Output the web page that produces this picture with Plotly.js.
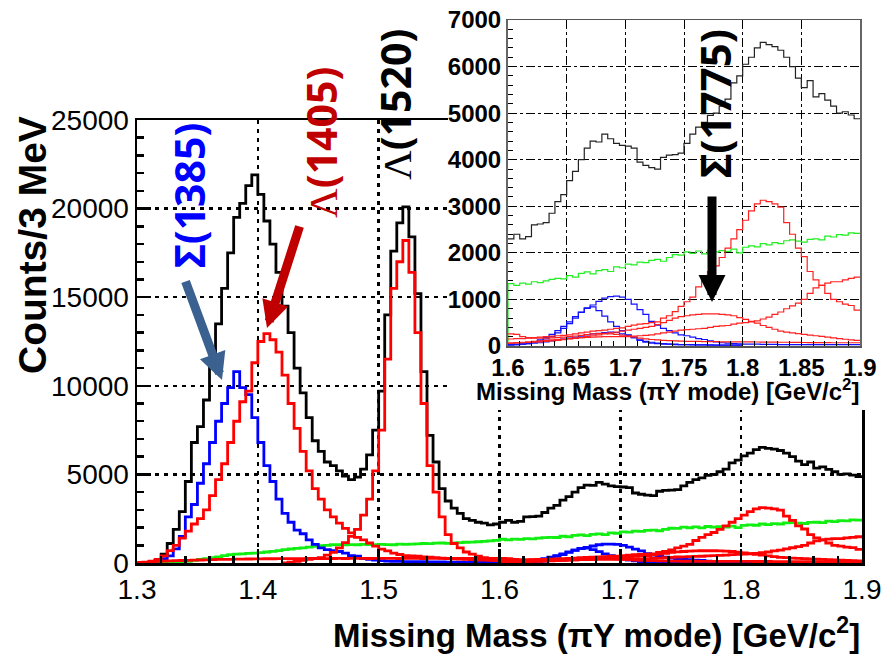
<!DOCTYPE html>
<html>
<head>
<meta charset="utf-8">
<script src="https://cdn.plot.ly/plotly-3.0.1.min.js"></script>
<style>html,body{margin:0;padding:0;background:#fff}</style>
</head>
<body>
<div id="chart" style="width:883px;height:655px"></div>
<script>
// Histogram bin width (GeV/c^2) used for all spectra below
const binWidth = 0.005;

// Total missing-mass spectrum, bins from 1.300
const totalStart = 1.300;
const totalCounts = [
  0, 0, 50, 150, 500, 1100, 1900, 2900, 4600, 6800,
  7700, 9200, 11500, 13500, 15500, 17500, 19500, 20300, 21300, 21900,
  20800, 19300, 18000, 16400, 14500, 13000, 11000, 9600, 8200, 6900,
  6300, 5700, 5500, 5200, 4900, 4700, 4850, 5300, 6100, 7500,
  9700, 14000, 17600, 19200, 20100, 18400, 15200, 10800, 7200, 5700,
  4200, 3500, 3100, 2800, 2500, 2400, 2300, 2250, 2150, 2200,
  2300, 2400, 2300, 2350, 2600, 2620, 2650, 2850, 3100, 3250,
  3550, 3750, 4000, 4250, 4400, 4380, 4550, 4450, 4350, 4310,
  4290, 4250, 3950, 3880, 3830, 3800, 4050, 4100, 4110, 4140,
  4350, 4550, 4700, 4800, 4950, 5000, 5150, 5300, 5650, 5800,
  6050, 6200, 6400, 6520, 6470, 6430, 6350, 6200, 6000, 5750,
  5550, 5700, 5350, 5420, 5280, 5150, 5000, 5030, 4960, 4880
];

// Non-resonant background (green), bins from 1.300
const bgStart = 1.300;
const bgCounts = [
  0, 0, 0, 0, 0, 0, 0, 0,
  100, 150, 200, 250, 300, 350, 420, 470, 500, 520,
  540, 560, 580, 620, 660, 700, 750, 790, 820, 850,
  900, 940, 980, 1000, 1030, 1040, 1020, 1040, 1030, 1050,
  1040, 1030, 1050, 1040, 1030, 1060, 1050, 1070, 1080, 1100,
  1090, 1120, 1130, 1110, 1140, 1150, 1170, 1180, 1200, 1220,
  1250, 1280,
  1340, 1300, 1350, 1330, 1380, 1360, 1400, 1430, 1450, 1440,
  1510, 1480, 1560, 1590, 1550, 1620, 1640, 1600, 1700, 1680,
  1760, 1740, 1800, 1790, 1840, 1860, 1820, 1900, 1960, 1950,
  2020, 1990, 2040, 1980, 2060, 2020, 2050, 2030, 2080, 2000,
  2120, 2150, 2130, 2200, 2170, 2220, 2200, 2260, 2280, 2250,
  2230, 2290, 2300, 2280, 2360, 2340, 2390, 2380, 2430, 2420
];

// Sigma(1385) component (blue), bins from 1.300
const sigma1385Start = 1.300;
const sigma1385Counts = [
  0, 30, 60, 120, 250, 400, 800, 1500, 2600, 3300,
  4500, 5600, 6800, 8000, 9000, 9900, 10800, 9900, 9500, 8200,
  6800, 5500, 4600, 3600, 2800, 2300, 1850, 1650, 1300, 1050,
  850, 750, 700, 650, 560, 420, 380, 250, 200, 160,
  130, 110, 100, 90, 80, 80, 70, 70, 60, 60,
  60, 50, 50, 50, 50, 40, 40, 40, 40, 40
];

// Lambda(1405) component (red), bins from 1.300
const lambda1405Start = 1.300;
const lambda1405Counts = [
  0, 30, 100, 200, 400, 700, 1000, 1400, 1800, 2200,
  2500, 3000, 3800, 4700, 5600, 6800, 8000, 9100, 9700, 11300,
  12500, 12950, 12600, 11900, 10600, 9000, 7600, 6300, 5200, 4200,
  3600, 3000, 2600, 2250, 1950, 1700, 1450, 1300, 1130, 950,
  780, 680, 560, 480, 420, 400, 380, 350, 330, 300,
  280, 260, 240, 220, 200, 190, 170, 160, 150, 140
];

// Lambda(1520) component (red), bins from 1.420
const lambda1520Start = 1.420;
const lambda1520Counts = [
  0, 50, 100, 150, 200, 250, 300, 450, 600, 850,
  1150, 1500, 1900, 2700, 3600, 5200, 7500, 11500, 15500, 17000,
  18200, 16400, 13000, 9000, 5500, 4000, 2600, 1600, 1100, 850,
  620, 500, 380, 300, 200, 150
];

// Higher-mass components, bins from 1.600
const highStart = 1.600;
const blueHighA = [
  30, 30, 40, 50, 80, 110, 150, 200, 280, 380,
  480, 600, 720, 820, 880, 960, 1030, 1060, 1070, 1050,
  1000, 900, 780, 680, 530, 450, 380, 330, 280, 240,
  220, 190, 160, 140, 110, 90, 70, 60, 50, 45,
  40, 40, 40, 35, 35, 35, 30, 30, 30, 30,
  30, 30, 30, 30, 30, 30, 30, 30, 30, 30
];
const blueHighB = [
  20, 30, 40, 60, 90, 130, 180, 250, 330, 420,
  520, 630, 730, 810, 840, 760, 640, 520, 420, 330,
  240, 180, 120, 80, 60, 50, 40, 40, 30, 30,
  30, 25, 25, 25, 20, 20, 20, 20, 20, 20
];
const blueHighC = [
  40, 40, 45, 50, 60, 70, 90, 110, 130, 150,
  170, 190, 210, 240, 260, 270, 290, 300, 290, 260,
  230, 180, 130, 100, 80, 60, 50, 40, 40, 30,
  30, 30, 25, 25, 25, 20, 20, 20, 20, 20
];
const sigma1775Counts = [
  150, 160, 160, 170, 180, 190, 200, 210, 220, 230,
  240, 260, 280, 300, 320, 330, 340, 360, 380, 390,
  420, 450, 470, 480, 500, 520, 600, 650, 740, 850,
  950, 1050, 1270, 1450, 1600, 1720, 1900, 2100, 2300, 2500,
  2700, 2900, 3050, 3130, 3100, 3050, 2980, 2650, 2400, 2100,
  1920, 1600, 1420, 1300, 1130, 1000, 950, 900, 870, 770
];
const redHighB = [
  60, 65, 70, 75, 80, 90, 100, 110, 120, 135,
  150, 165, 180, 200, 220, 240, 260, 280, 300, 320,
  340, 360, 380, 400, 420, 460, 500, 550, 600, 630,
  650, 670, 680, 690, 690, 690, 680, 670, 650, 610,
  570, 530, 490, 440, 400, 360, 320, 300, 280, 265,
  250, 235, 220, 205, 190, 175, 160, 145, 130, 120
];
const redHighC = [
  60, 70, 80, 90, 100, 110, 120, 130, 140, 150,
  160, 170, 180, 185, 190, 195, 200, 200, 200, 200,
  200, 210, 220, 230, 240, 260, 280, 300, 320, 340,
  350, 360, 370, 380, 400, 420, 430, 440, 470, 490,
  500, 520, 540, 580, 620, 680, 730, 800, 860, 920,
  1000, 1130, 1250, 1300, 1350, 1380, 1380, 1420, 1450, 1480
];
// Low-level red component over the full range, bins from 1.300
const redLowStart = 1.300;
const redLowCounts = [
  30, 50, 70, 90, 110, 120, 130, 140, 150, 160,
  170, 180, 190, 200, 205, 210, 215, 220, 225, 230,
  235, 240, 240, 245, 245, 250, 250, 250, 255, 255,
  255, 250, 255, 260, 255, 260, 265, 260, 255, 260,
  260, 265, 260, 255, 260, 265, 260, 255, 260, 265,
  260, 255, 260, 265, 260, 255, 260, 265, 260, 265,
  260, 250, 200, 180, 170, 170, 170, 175, 180, 190,
  200, 215, 230, 245, 260, 265, 270, 260, 250, 235,
  220, 195, 170, 155, 140, 130, 120, 115, 110, 105,
  100, 100, 100, 95, 95, 95, 90, 90, 90, 90,
  90, 88, 86, 85, 84, 82, 80, 80, 78, 76,
  75, 74, 73, 72, 71, 70, 70, 70, 70, 70
];

// Axis tick labels
const mainXTicks = [1.3, 1.4, 1.5, 1.6, 1.7, 1.8, 1.9];
const mainXLabels = ['1.3', '1.4', '1.5', '1.6', '1.7', '1.8', '1.9'];
const mainYTicks = [0, 5000, 10000, 15000, 20000, 25000];
const mainYLabels = ['0', '5000', '10000', '15000', '20000', '25000'];
const insetXTicks = [1.6, 1.65, 1.7, 1.75, 1.8, 1.85, 1.9];
const insetXLabels = ['1.6', '1.65', '1.7', '1.75', '1.8', '1.85', '1.9'];
const insetYTicks = [0, 1000, 2000, 3000, 4000, 5000, 6000, 7000];
const insetYLabels = ['0', '1000', '2000', '3000', '4000', '5000', '6000', '7000'];

// Build step-histogram coordinates from bin contents
function stepXY(start, vals, fromBin, zeroLead) {
  const xs = [], ys = [];
  const first = fromBin || 0;
  if (zeroLead) { xs.push(+(start + first * binWidth).toFixed(4)); ys.push(0); }
  for (let i = first; i < vals.length; i++) {
    xs.push(+(start + i * binWidth).toFixed(4));
    ys.push(vals[i]);
  }
  xs.push(+(start + vals.length * binWidth).toFixed(4));
  ys.push(vals[vals.length - 1]);
  return { xs, ys };
}

function hist(start, vals, color, width, axes, fromBin, zeroLead) {
  const d = stepXY(start, vals, fromBin, zeroLead);
  return {
    type: 'scatter', mode: 'lines', x: d.xs, y: d.ys,
    line: { shape: 'hv', color: color, width: width },
    xaxis: axes[0], yaxis: axes[1], hoverinfo: 'skip', showlegend: false, cliponaxis: true
  };
}

const MAIN = ['x', 'y'];
const INSET = ['x3', 'y3'];
const bw = 2.8, tw = 1.2;
const insetFrom = Math.round((1.6 - totalStart) / binWidth);

const traces = [
  // main panel
  hist(totalStart, totalCounts, '#000000', bw, MAIN),
  hist(bgStart, bgCounts, '#11ee11', bw, MAIN),
  hist(sigma1385Start, sigma1385Counts, '#0000ff', bw, MAIN),
  hist(highStart, blueHighA, '#0000ff', bw, MAIN),
  hist(highStart, blueHighB, '#0000ff', bw, MAIN),
  hist(highStart, blueHighC, '#0000ff', bw, MAIN),
  hist(redLowStart, redLowCounts, '#ff0000', bw, MAIN),
  hist(lambda1405Start, lambda1405Counts, '#ff0000', bw, MAIN),
  hist(lambda1520Start, lambda1520Counts, '#ff0000', bw, MAIN),
  hist(highStart, redHighB, '#ff0000', bw, MAIN),
  hist(highStart, redHighC, '#ff0000', bw, MAIN),
  hist(highStart, sigma1775Counts, '#ff0000', bw, MAIN),
  // blank panel that masks the main frame behind the inset
  { type: 'scatter', mode: 'markers', x: [0.5], y: [0.5], marker: { opacity: 0 },
    xaxis: 'x2', yaxis: 'y2', hoverinfo: 'skip', showlegend: false },
  // inset panel
  hist(totalStart, totalCounts, '#222222', tw, INSET, insetFrom),
  hist(bgStart, bgCounts, '#22ee22', tw, INSET, insetFrom, true),
  hist(highStart, blueHighA, '#1010ff', tw, INSET),
  hist(highStart, blueHighB, '#1010ff', tw, INSET),
  hist(highStart, blueHighC, '#1010ff', tw, INSET),
  hist(redLowStart, redLowCounts, '#ff2020', tw, INSET, insetFrom),
  hist(highStart, redHighB, '#ff2020', tw, INSET),
  hist(highStart, redHighC, '#ff2020', tw, INSET),
  hist(highStart, sigma1775Counts, '#ff2020', tw, INSET)
];

const W = 883, H = 655;
const px = v => v / W;
const py = v => 1 - v / H;

const mainFont = { family: 'Liberation Sans, Arial, sans-serif', size: 28, color: '#000' };
const insetFont = { family: 'Liberation Sans, Arial, sans-serif', size: 24, color: '#000', weight: 'bold' };

const layout = {
  width: W, height: H,
  margin: { l: 0, r: 0, t: 0, b: 0 },
  paper_bgcolor: '#ffffff', plot_bgcolor: '#ffffff',
  font: { family: 'Liberation Sans, Arial, sans-serif', color: '#000' },
  showlegend: false,
  xaxis: {
    domain: [px(137), px(862)], range: [1.3, 1.9], anchor: 'y',
    tickmode: 'array', tickvals: mainXTicks, ticktext: mainXLabels,
    ticks: 'inside', ticklen: 14, tickwidth: 2.5, tickcolor: '#000',
    minor: { dtick: 0.02, tick0: 1.3, ticks: 'inside', ticklen: 7, tickwidth: 2.5, tickcolor: '#000' },
    showgrid: true, gridcolor: '#000', gridwidth: 2.5, griddash: '4px,5px',
    showline: true, linecolor: '#000', linewidth: 2.5, mirror: true,
    zeroline: false, tickfont: mainFont, fixedrange: true
  },
  yaxis: {
    domain: [py(563), py(120)], range: [0, 25000], anchor: 'x',
    tickmode: 'array', tickvals: mainYTicks, ticktext: mainYLabels,
    ticks: 'inside', ticklen: 14, tickwidth: 2.5, tickcolor: '#000',
    minor: { dtick: 1000, tick0: 0, ticks: 'inside', ticklen: 7, tickwidth: 2.5, tickcolor: '#000' },
    showgrid: true, gridcolor: '#000', gridwidth: 2.5, griddash: '4px,5px',
    showline: true, linecolor: '#000', linewidth: 2.5, mirror: true,
    zeroline: false, tickfont: mainFont, fixedrange: true
  },
  xaxis2: {
    domain: [px(448), 1], range: [0, 1], anchor: 'y2',
    showgrid: false, zeroline: false, showline: false, showticklabels: false, ticks: '', fixedrange: true
  },
  yaxis2: {
    domain: [py(410), 1], range: [0, 1], anchor: 'x2',
    showgrid: false, zeroline: false, showline: false, showticklabels: false, ticks: '', fixedrange: true
  },
  xaxis3: {
    domain: [px(508), px(860)], range: [1.6, 1.9], anchor: 'y3',
    tickmode: 'array', tickvals: insetXTicks, ticktext: insetXLabels,
    ticks: 'inside', ticklen: 9, tickwidth: 1, tickcolor: '#000',
    minor: { dtick: 0.01, tick0: 1.6, ticks: 'inside', ticklen: 5, tickwidth: 1, tickcolor: '#000' },
    showgrid: true, gridcolor: '#000', gridwidth: 1, griddash: 'dashdot',
    showline: true, linecolor: '#555', linewidth: 1.5, mirror: true,
    zeroline: false, tickfont: insetFont, fixedrange: true
  },
  yaxis3: {
    domain: [py(346), py(20)], range: [0, 7000], anchor: 'x3',
    tickmode: 'array', tickvals: insetYTicks, ticktext: insetYLabels,
    ticks: 'inside', ticklen: 9, tickwidth: 1, tickcolor: '#000',
    minor: { dtick: 200, tick0: 0, ticks: 'inside', ticklen: 5, tickwidth: 1, tickcolor: '#000' },
    showgrid: true, gridcolor: '#000', gridwidth: 1, griddash: 'dashdot',
    showline: true, linecolor: '#666', linewidth: 2, mirror: true,
    zeroline: false, tickfont: insetFont, fixedrange: true
  },
  annotations: [
    // axis titles
    { xref: 'paper', yref: 'paper', x: px(862), y: py(633), xanchor: 'right', yanchor: 'middle',
      showarrow: false, text: 'Missing Mass (πY mode) [GeV/c<sup>2</sup>]',
      font: { family: 'Liberation Sans, Arial, sans-serif', size: 33, weight: 'bold', color: '#000' } },
    { xref: 'paper', yref: 'paper', x: px(32), y: py(245), xanchor: 'center', yanchor: 'middle',
      showarrow: false, textangle: -90, text: 'Counts/3 MeV',
      font: { family: 'Liberation Sans, Arial, sans-serif', size: 39, weight: 'bold', color: '#000' } },
    { xref: 'paper', yref: 'paper', x: px(861), y: py(390), xanchor: 'right', yanchor: 'middle',
      showarrow: false, text: 'Missing Mass (πY mode) [GeV/c<sup>2</sup>]',
      font: { family: 'Liberation Sans, Arial, sans-serif', size: 24, weight: 'bold', color: '#000' } },
    // resonance labels
    { xref: 'paper', yref: 'paper', x: px(189), y: py(196), xanchor: 'center', yanchor: 'middle',
      showarrow: false, textangle: -90, text: 'Σ(1385)',
      font: { family: 'Noto Sans, sans-serif', size: 41, weight: 'bold', color: '#0000ff' } },
    { xref: 'paper', yref: 'paper', x: px(321), y: py(143), xanchor: 'center', yanchor: 'middle',
      showarrow: false, textangle: -90,
      text: '<span style="font-family:Liberation Serif;font-weight:normal">Λ</span>(1405)',
      font: { family: 'Noto Sans, sans-serif', size: 41, weight: 'bold', color: '#c00000' } },
    { xref: 'paper', yref: 'paper', x: px(395), y: py(105), xanchor: 'center', yanchor: 'middle',
      showarrow: false, textangle: -90,
      text: '<span style="font-family:Liberation Serif;font-weight:normal">Λ</span>(1520)',
      font: { family: 'Noto Sans, sans-serif', size: 41, weight: 'bold', color: '#000000' } },
    { xref: 'paper', yref: 'paper', x: px(715), y: py(104), xanchor: 'center', yanchor: 'middle',
      showarrow: false, textangle: -90, text: 'Σ(1775)',
      font: { family: 'Noto Sans, sans-serif', size: 42, weight: 'bold', color: '#000000' } },
    // arrows
    { xref: 'paper', yref: 'paper', x: px(222), y: py(380), ax: -37, ay: -100, text: '',
      showarrow: true, arrowhead: 2, arrowsize: 0.6, arrowwidth: 9, arrowcolor: '#3a6190', standoff: 0 },
    { xref: 'paper', yref: 'paper', x: px(267), y: py(328), ax: 33, ay: -103, text: '',
      showarrow: true, arrowhead: 2, arrowsize: 0.6, arrowwidth: 9, arrowcolor: '#c00000', standoff: 0 },
    { xref: 'paper', yref: 'paper', x: px(712), y: py(302), ax: 0, ay: -107, text: '',
      showarrow: true, arrowhead: 2, arrowsize: 0.6, arrowwidth: 9, arrowcolor: '#000000', standoff: 0 }
  ]
};

Plotly.newPlot('chart', traces, layout, { staticPlot: true, displayModeBar: false });
</script>
</body>
</html>
